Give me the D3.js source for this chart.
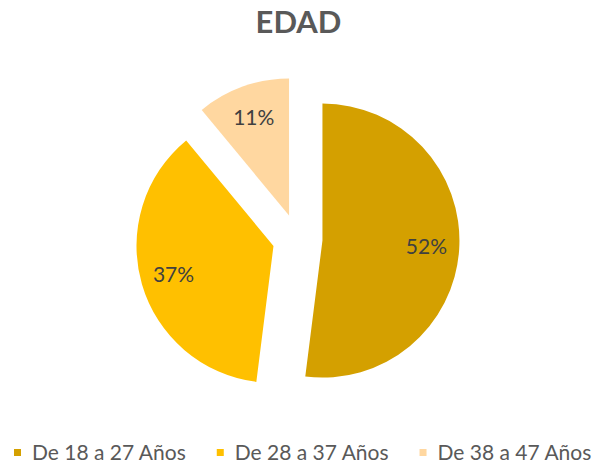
<!DOCTYPE html>
<meta charset="utf-8">
<style>

body {
  margin: 0;
  background: #fff;
}

.title {
  font: bold 31px Lato, "Open Sans", sans-serif;
  fill: #595959;
  text-anchor: middle;
}

.label {
  font: 21px Lato, "Open Sans", sans-serif;
  fill: #404040;
  text-anchor: middle;
}

.legend text {
  font: 21px Lato, "Open Sans", sans-serif;
  fill: #595959;
}

</style>
<svg width="597" height="464"></svg>
<script src="https://d3js.org/d3.v7.min.js"></script>
<script>

// datos
var categories = ["De 18 a 27 Años", "De 28 a 37 Años", "De 38 a 47 Años"];
var values = [52, 37, 11];
var colors = ["#D4A000", "#FFC000", "#FFD7A0"];

var svg = d3.select("svg"),
    width = +svg.attr("width"),
    cx = 297.5,
    cy = 239,
    radius = 137,
    explode = 25;

svg.append("text")
    .attr("class", "title")
    .attr("x", width / 2)
    .attr("y", 33)
    .text("EDAD");

var data = categories.map(function(c, i) {
  return { name: c, value: values[i], color: colors[i] };
});

var pie = d3.pie()
    .sort(null)
    .value(function(d) { return d.value; });

var arc = d3.arc()
    .innerRadius(0)
    .outerRadius(radius);

var labelArc = d3.arc()
    .innerRadius(radius * 0.76)
    .outerRadius(radius * 0.76);

var total = d3.sum(values);

var g = svg.append("g").attr("transform", "translate(" + cx + "," + cy + ")");

var slice = g.selectAll(".slice")
  .data(pie(data))
  .enter().append("g")
    .attr("class", "slice")
    .attr("transform", function(d) {
      var a = (d.startAngle + d.endAngle) / 2;
      return "translate(" + Math.sin(a) * explode + "," + (-Math.cos(a) * explode) + ")";
    });

slice.append("path")
    .attr("d", arc)
    .style("fill", function(d) { return d.data.color; });

slice.append("text")
    .attr("class", "label")
    .attr("transform", function(d) { return "translate(" + labelArc.centroid(d) + ")"; })
    .attr("dy", ".35em")
    .text(function(d) { return Math.round(d.value / total * 100) + "%"; });

// leyenda
var legend = svg.append("g").attr("class", "legend");

var item = legend.selectAll("g")
  .data(data)
  .enter().append("g");

item.append("rect")
    .attr("width", 7)
    .attr("height", 7)
    .attr("y", -11)
    .style("fill", function(d) { return d.color; });

item.append("text")
    .attr("x", 18)
    .text(function(d) { return d.name; });

var x = 0;
item.each(function() {
  var w = this.querySelector("text").getComputedTextLength();
  d3.select(this).attr("transform", "translate(" + x + ",0)");
  x += 18 + w + 31;
});

legend.attr("transform", "translate(14,460)");

</script>
